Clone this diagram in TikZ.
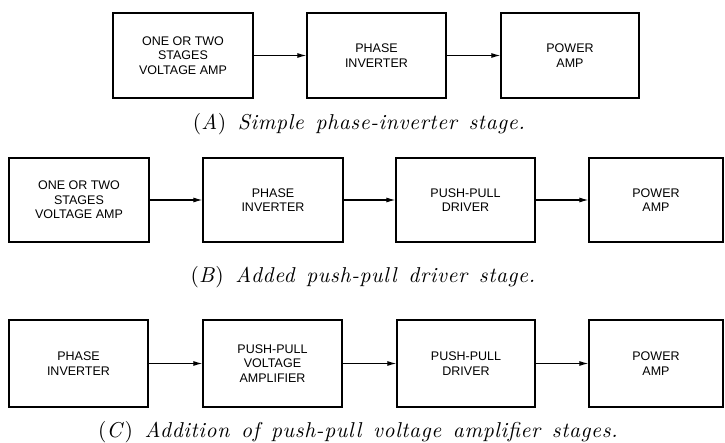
\documentclass[tikz,border=0pt]{standalone}
\usepackage{fontspec}
\usetikzlibrary{arrows.meta}
\newfontfamily\boxfont{Liberation Sans}
\newfontfamily\capfont{lmroman10-regular.otf}[ItalicFont=lmroman10-italic.otf, LetterSpace=3, WordSpace=1.4]
\begin{document}
\begin{tikzpicture}[x=1pt,y=-1pt,
  stage/.style={draw, line width=1.3pt, minimum width=139pt, minimum height=85pt, inner sep=0pt, align=center,
    font=\boxfont\fontsize{12.5}{14.5}\selectfont},
  conn/.style={line width=1.1pt, -{Latex[length=9pt,width=5pt]}},
  captiontext/.style={font=\capfont\itshape\fontsize{21.5}{24}\selectfont, anchor=base, inner sep=0pt}]
\useasboundingbox (0,0) rectangle (725,443);
\fill[white] (0,0) rectangle (725,443);
% Row A
\node[stage, minimum width=140pt] (a1) at (183,55.5) {ONE OR TWO\\STAGES\\VOLTAGE AMP};
\node[stage] (a2) at (376.5,55.5) {PHASE\\INVERTER};
\node[stage, minimum width=138pt] (a3) at (570,55.5) {POWER\\AMP};
\draw[conn] (a1) -- (a2);
\draw[conn] (a2) -- (a3);
\node[captiontext] (ca) at (359,130) {\textup{(}A\textup{)} Simple phase-inverter stage.};
% Row B
\node[stage, minimum width=140pt, minimum height=84pt] (b1) at (79,200) {ONE OR TWO\\STAGES\\VOLTAGE AMP};
\node[stage, minimum width=140pt, minimum height=84pt] (b2) at (273,200) {PHASE\\INVERTER};
\node[stage, minimum height=84pt] (b3) at (465.5,200) {PUSH-PULL\\DRIVER};
\node[stage, minimum width=134pt, minimum height=84pt] (b4) at (656,200) {POWER\\AMP};
\draw[conn] (b1) -- (b2);
\draw[conn] (b2) -- (b3);
\draw[conn] (b3) -- (b4);
\node[captiontext] (cb) at (363,283) {\textup{(}B\textup{)} Added push-pull driver stage.};
% Row C
\node[stage, minimum height=87pt] (c1) at (78.5,363.5) {PHASE\\INVERTER};
\node[stage, minimum height=87pt] (c2) at (272.5,363.5) {PUSH-PULL\\VOLTAGE\\AMPLIFIER};
\node[stage, minimum width=138pt, minimum height=87pt] (c3) at (466,363.5) {PUSH-PULL\\DRIVER};
\node[stage, minimum width=134pt, minimum height=87pt] (c4) at (656,363.5) {POWER\\AMP};
\draw[conn] (c1) -- (c2);
\draw[conn] (c2) -- (c3);
\draw[conn] (c3) -- (c4);
\node[captiontext] (cc) at (358,437) {\textup{(}C\textup{)} Addition of push-pull voltage amplifier stages.};
\end{tikzpicture}
\end{document}
